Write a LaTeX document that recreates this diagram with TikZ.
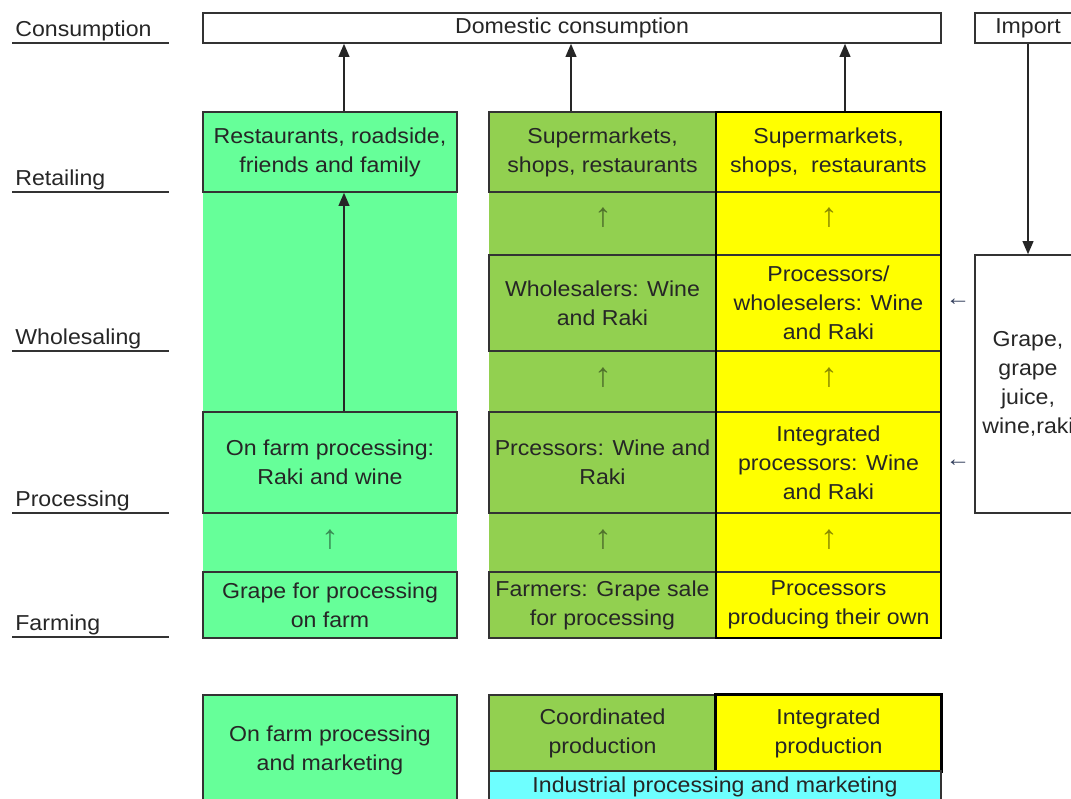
\documentclass[tikz,border=0pt]{standalone}
\usepackage{fontspec}
\setmainfont{Liberation Sans}[FakeStretch=1.07]
\usetikzlibrary{arrows.meta}
\definecolor{farmgreen}{RGB}{102,255,153}
\definecolor{coordgreen}{RGB}{146,208,80}
\definecolor{intyellow}{RGB}{255,255,0}
\definecolor{indcyan}{RGB}{110,255,255}
\definecolor{importarr}{RGB}{50,62,92}
\begin{document}
\begin{tikzpicture}[x=0.02cm, y=-0.02cm,
	font=\fontsize{12.3}{16.5}\selectfont, text=black!85,
	cell/.style={draw=black!80, line width=0.9pt, align=center,
		inner sep=0pt, minimum height=#1},
	lcell/.style={cell=#1, fill=farmgreen, minimum width=5.08cm},
	mcell/.style={cell=#1, fill=coordgreen, minimum width=4.54cm},
	ycell/.style={cell=#1, fill=intyellow, minimum width=4.5cm},
	uparr/.style={font=\fontsize{19}{19}\selectfont,
		text=black, text opacity=0.45},
	arr/.style={draw=black!85, line width=0.9pt,
		-{Triangle[length=7.5pt, width=6.2pt]}}]
\useasboundingbox (0,0) rectangle (1071,798);
\clip (0,0) rectangle (1071,798);
\foreach \t/\y in {Consumption/43, Retailing/192, Wholesaling/351,
		Processing/513, Farming/637} {
	\node[anchor=base west, inner sep=0pt] (\t) at (15,\y-7) {\t};
	\draw[black!80, line width=0.9pt] (12,\y) -- (169,\y);
}
\node[cell=0.6cm, minimum width=14.76cm] (dom) at (572,28) {Domestic consumption};
\node[cell=0.6cm, minimum width=2.12cm] (imp) at (1028,28) {Import};
\fill[farmgreen] (203,112) rectangle (457,638);
\fill[coordgreen] (489,112) rectangle (716,638);
\fill[intyellow] (716,112) rectangle (941,638);
\node[lcell=1.6cm] (lret) at (330,152) {Restaurants, roadside,\\friends and family};
\node[lcell=2.02cm] (lpro) at (330,462.5) {On farm processing:\\Raki and wine};
\node[lcell=1.32cm] (lfarm) at (330,605) {Grape for processing\\on farm};
\node[mcell=1.6cm] (mret) at (602.5,152) {Supermarkets,\\shops, restaurants};
\node[mcell=1.92cm] (mwho) at (602.5,303) {Wholesalers: Wine\\and Raki};
\node[mcell=2.02cm] (mpro) at (602.5,462.5) {Prcessors: Wine and\\Raki};
\node[mcell=1.32cm] (mfarm) at (602.5,605) {Farmers: Grape sale\\for processing};
\node[ycell=1.6cm] (yret) at (828.5,152) {Supermarkets,\\shops,\ \ restaurants};
\node[ycell=1.92cm] (ywho) at (828.5,303) {Processors/\\wholeselers: Wine\\and Raki};
\node[ycell=2.02cm] (ypro) at (828.5,462.5) {Integrated\\processors: Wine\\and Raki};
\node[ycell=1.32cm] (yfarm) at (828.5,605) {Processors\\producing their own};
\draw[black, line width=1.5pt] (716,112) rectangle (941,638);
\node[cell=5.16cm, minimum width=2.12cm] (grape) at (1028,384) {Grape,\\grape\\juice,\\wine,raki};
\foreach \x/\y/\n in {330/540/a, 603/218/b, 603/378/c, 603/540/d,
		829/218/e, 829/378/f, 829/540/g}
	\node[uparr] (up\n) at (\x,\y) {↑};
\foreach \y/\n in {302/a, 463/b}
	\node[font=\fontsize{13}{13}\selectfont, text=importarr] (left\n) at (958,\y) {←};
\draw[arr] (lret.north) ++(14,0) coordinate (ca) -- (ca |- dom.south);
\draw[arr] (mret.north) ++(-31.5,0) coordinate (cb) -- (cb |- dom.south);
\draw[arr] (yret.north) ++(16.5,0) coordinate (cc) -- (cc |- dom.south);
\draw[arr] (lpro.north) ++(14,0) coordinate (cd) -- (cd |- lret.south);
\draw[arr] (imp.south) -- (grape.north);
\node[lcell=2.14cm, text depth=0pt] (lmark) at (330,748.5) {On farm processing\\and marketing};
\node[mcell=1.52cm] (coord) at (602.5,733) {Coordinated\\production};
\node[ycell=1.52cm] (integ) at (828.5,733) {Integrated\\production};
\draw[black, line width=1.5pt] (integ.south west) rectangle (integ.north east);
\node[cell=0.64cm, fill=indcyan, minimum width=9.04cm] (indus) at (715,787) {Industrial processing and marketing};
\end{tikzpicture}
\end{document}
